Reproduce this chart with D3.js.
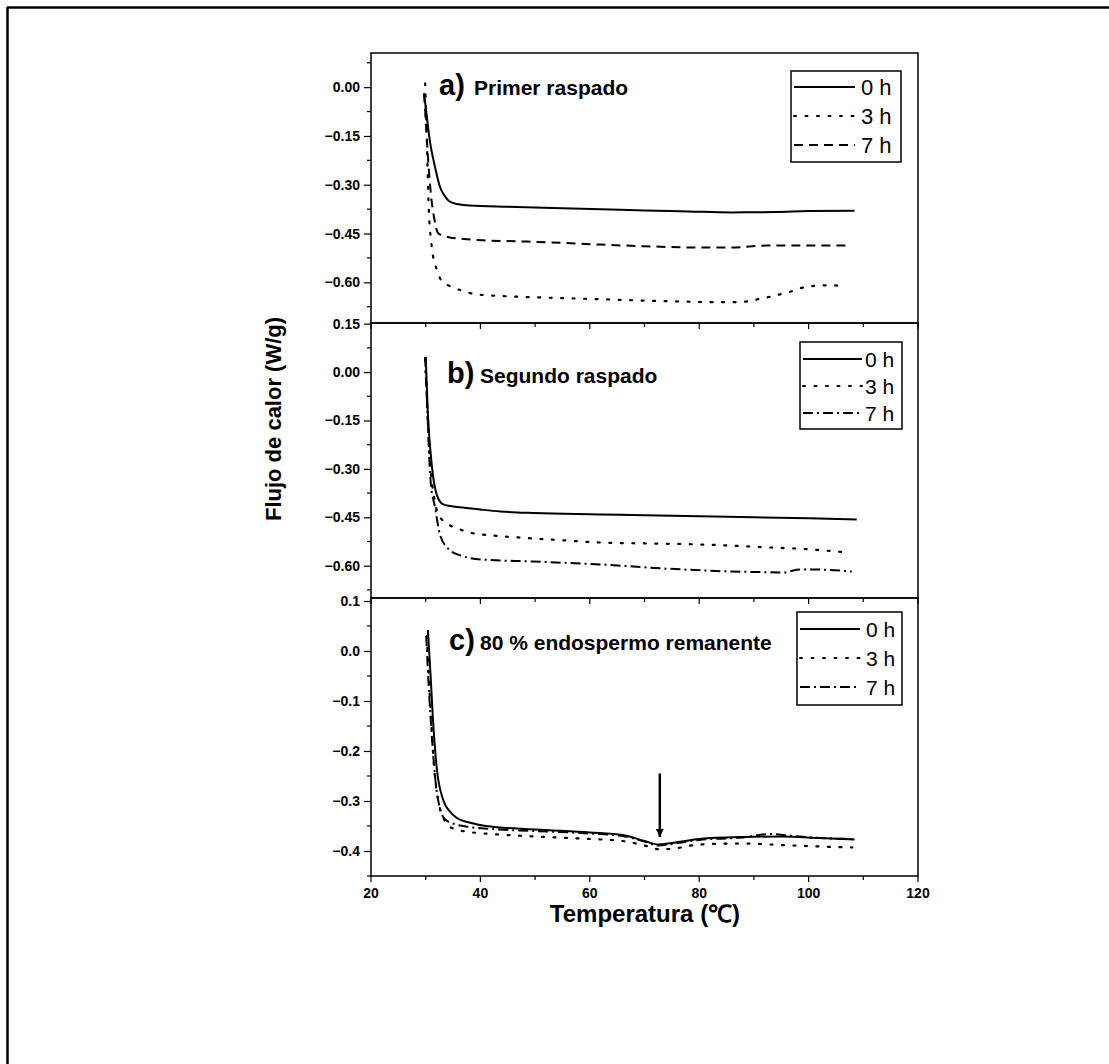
<!DOCTYPE html>
<html><head><meta charset="utf-8">
<script src="https://cdn.jsdelivr.net/npm/d3@7"></script>
<style>body{margin:0;background:#fff}svg{display:block}text{font-family:"Liberation Sans",Arial,sans-serif}</style>
</head><body><svg id="c" width="1109" height="1064"></svg>
<script>
// ---- data ----
const xTicks = [20, 40, 60, 80, 100, 120];
const seriesLabels = ["0 h", "3 h", "7 h"];
const panelTitles = ["Primer raspado", "Segundo raspado", "80 % endospermo remanente"];
const panelLetters = ["a)", "b)", "c)"];
const yTicksA = [0.00, -0.15, -0.30, -0.45, -0.60];
const yTicksB = [0.15, 0.00, -0.15, -0.30, -0.45, -0.60];
const yTicksC = [0.1, 0.0, -0.1, -0.2, -0.3, -0.4];

const a0T = [29.7, 30.2, 30.8, 31.7, 32.6, 33.5, 34.4, 36, 38, 45, 55, 62, 70, 78, 86, 94, 100, 108.4];
const a0V = [-0.018, -0.09, -0.17, -0.245, -0.306, -0.335, -0.352, -0.360, -0.364, -0.368, -0.372, -0.375, -0.379, -0.382, -0.385, -0.384, -0.381, -0.380];
const a3T = [29.9, 30.2, 30.5, 31.1, 32, 33, 35, 39.4, 45, 50, 62, 74, 84, 87, 91.6, 96.2, 100.2, 104.4, 106.9];
const a3V = [0.012, -0.153, -0.346, -0.49, -0.56, -0.597, -0.615, -0.637, -0.643, -0.646, -0.652, -0.658, -0.661, -0.661, -0.649, -0.631, -0.612, -0.609, -0.615];
const a7T = [29.7, 30.1, 30.6, 31, 31.6, 32.2, 33, 34.4, 37, 40.5, 47, 52.7, 62, 70, 80, 86, 92.3, 100, 107.5];
const a7V = [-0.02, -0.13, -0.26, -0.337, -0.407, -0.447, -0.456, -0.462, -0.467, -0.471, -0.474, -0.477, -0.484, -0.489, -0.493, -0.493, -0.487, -0.487, -0.487];

const b0T = [30, 30.4, 31.1, 32, 33.2, 34.5, 36.3, 40, 43.6, 50, 61.8, 70, 80, 90, 100, 108.8];
const b0V = [0.047, -0.13, -0.286, -0.379, -0.41, -0.415, -0.419, -0.426, -0.432, -0.437, -0.441, -0.444, -0.447, -0.450, -0.453, -0.457];
const b3T = [29.9, 30.3, 30.8, 31.6, 32.3, 33.9, 36, 38, 42, 46.6, 55.8, 61.8, 70, 80, 92.3, 100, 107];
const b3V = [0.04, -0.12, -0.28, -0.394, -0.441, -0.469, -0.486, -0.497, -0.506, -0.512, -0.522, -0.528, -0.531, -0.534, -0.543, -0.549, -0.559];
const b7T = [29.9, 30.3, 30.9, 31.7, 32.6, 33.9, 36.3, 40.5, 49.6, 61.8, 74, 86.1, 92, 95.3, 98.4, 101.5, 107.9];
const b7V = [0.047, -0.12, -0.338, -0.419, -0.503, -0.543, -0.568, -0.581, -0.587, -0.596, -0.609, -0.618, -0.620, -0.621, -0.612, -0.612, -0.618];

const c0T = [30.4, 30.9, 31.3, 32, 33.2, 34.5, 35.7, 38, 41, 50, 60, 66, 70, 72.5, 75, 80, 88, 95, 102, 108.4];
const c0V = [0.042, -0.05, -0.132, -0.232, -0.298, -0.322, -0.334, -0.343, -0.350, -0.357, -0.363, -0.368, -0.380, -0.387, -0.384, -0.376, -0.372, -0.371, -0.374, -0.377];
const c3T = [30.2, 30.6, 31, 31.6, 32.5, 33.5, 35, 38, 42, 50, 60, 66, 70, 73, 76, 80, 88, 95, 102, 108];
const c3V = [0.03, -0.06, -0.14, -0.24, -0.31, -0.34, -0.355, -0.362, -0.366, -0.371, -0.376, -0.380, -0.389, -0.397, -0.394, -0.387, -0.385, -0.388, -0.391, -0.393];
const c7T = [30.1, 30.5, 31, 31.7, 32.6, 33.6, 35, 38, 42, 50, 60, 66, 70, 72.5, 75, 80, 88, 93, 97, 102, 108];
const c7V = [0.03, -0.06, -0.15, -0.25, -0.315, -0.337, -0.345, -0.352, -0.356, -0.36, -0.365, -0.370, -0.381, -0.389, -0.386, -0.378, -0.373, -0.366, -0.370, -0.374, -0.376];

const arrowT = 72.8, arrowFrom = -0.245, arrowTo = -0.372;

// ---- layout / styles ----
const svg = d3.select("#c");
const X0 = 371, X1 = 918;
const x = d3.scaleLinear().domain([20, 120]).range([X0, X1]);
const dashes = {solid: null, dot: "2 9.5", dash: "9 6", dashdot: "10 4 2 4"};

const panels = [
  {top: 53, bot: 323, dom: [-0.725, 0.105], ticks: yTicksA, fmt: d3.format(".2f"), minorStep: 0.075,
   series: [[a0T, a0V, "solid"], [a3T, a3V, "dot"], [a7T, a7V, "dash"]],
   letterX: 439, titleX: 474, base: 95, title: 0,
   leg: {x: 791, y: 71, w: 110, h: 91, l0: 794, l1: 855, tx: 861, rows: [95, 124, 153], fs: 22}},
  {top: 323, bot: 598, dom: [-0.70, 0.152], ticks: yTicksB, fmt: d3.format(".2f"), minorStep: 0.075,
   series: [[b0T, b0V, "solid"], [b3T, b3V, "dot"], [b7T, b7V, "dashdot"]],
   letterX: 447, titleX: 480, base: 383, title: 1,
   leg: {x: 800, y: 342, w: 102, h: 87, l0: 803, l1: 862, tx: 865, rows: [367, 394, 421], fs: 21}},
  {top: 598, bot: 876, dom: [-0.45, 0.106], ticks: yTicksC, fmt: d3.format(".1f"), minorStep: 0.05,
   series: [[c0T, c0V, "solid"], [c3T, c3V, "dot"], [c7T, c7V, "dashdot"]],
   letterX: 449, titleX: 480, base: 650, title: 2,
   leg: {x: 797, y: 612, w: 105, h: 93, l0: 800, l1: 860, tx: 866, rows: [637, 666, 695], fs: 21}}
];

// outer frame (top & left edges visible)
svg.append("line").attr("x1", 7).attr("y1", 7.5).attr("x2", 1109).attr("y2", 7.5).attr("stroke", "#000").attr("stroke-width", 2.5);
svg.append("line").attr("x1", 7.5).attr("y1", 7).attr("x2", 7.5).attr("y2", 1064).attr("stroke", "#000").attr("stroke-width", 2.5);

const defs = svg.append("defs");
defs.append("marker").attr("id", "ah").attr("viewBox", "0 0 10 10").attr("refX", 10).attr("refY", 5)
  .attr("markerWidth", 3.2).attr("markerHeight", 3.2).attr("markerUnits", "strokeWidth").attr("orient", "auto")
  .append("path").attr("d", "M0,0 L10,5 L0,10 Z").attr("fill", "#000");

panels.forEach((p, pi) => {
  const y = d3.scaleLinear().domain(p.dom).range([p.bot, p.top]);
  const g = svg.append("g");
  g.append("rect").attr("x", X0).attr("y", p.top).attr("width", X1 - X0).attr("height", p.bot - p.top)
    .attr("fill", "none").attr("stroke", "#000").attr("stroke-width", 1.5);
  const xt = g.append("g").attr("transform", `translate(0,${p.bot})`);
  d3.range(20, 121, 10).forEach(t => {
    xt.append("line").attr("x1", x(t)).attr("x2", x(t)).attr("y1", 0).attr("y2", t % 20 === 0 ? 6 : 4)
      .attr("stroke", "#000").attr("stroke-width", 1.2);
  });
  if (pi === 2) {
    xt.selectAll("text.xl").data(xTicks).join("text").attr("class", "xl")
      .attr("x", d => x(d)).attr("y", 22).attr("text-anchor", "middle")
      .attr("font-size", 14).attr("font-weight", "bold").text(d => d);
  }
  const yax = d3.axisLeft(y).tickValues(p.ticks).tickSize(7).tickPadding(4).tickFormat(p.fmt);
  const yg = g.append("g").attr("transform", `translate(${X0},0)`).call(yax);
  yg.select(".domain").remove();
  yg.selectAll("line").attr("stroke-width", 1.2);
  yg.selectAll("text").attr("font-size", 14).attr("font-weight", "bold").attr("font-family", '"Liberation Sans",Arial,sans-serif').attr("fill", "#000");
  const lo = p.dom[0], hi = p.dom[1];
  const minors = [];
  for (let k = Math.ceil(lo / p.minorStep - 1e-6); k * p.minorStep <= hi + 1e-6; k++) {
    const v = +(k * p.minorStep).toFixed(4);
    if (!p.ticks.some(t => Math.abs(t - v) < 1e-6)) minors.push(v);
  }
  g.selectAll("line.mn").data(minors).join("line").attr("class", "mn")
    .attr("x1", X0 - 4).attr("x2", X0).attr("y1", d => y(d)).attr("y2", d => y(d))
    .attr("stroke", "#000").attr("stroke-width", 1.2);

  const line = d3.line().x(d => x(d[0])).y(d => y(d[1])).curve(d3.curveMonotoneX);
  p.series.forEach(([T, V, st]) => {
    const pts = T.map((t, i) => [t, V[i]]);
    g.append("path").attr("d", line(pts)).attr("fill", "none").attr("stroke", "#000")
      .attr("stroke-width", st === "dot" ? 2.2 : 2).attr("stroke-dasharray", dashes[st])
      .attr("stroke-linecap", st === "dot" ? "round" : "butt");
  });

  const tt = g.append("text").attr("y", p.base).attr("font-weight", "bold");
  tt.append("tspan").attr("x", p.letterX).attr("font-size", 29).text(panelLetters[pi]);
  tt.append("tspan").attr("x", p.titleX).attr("font-size", 21).text(panelTitles[p.title]);

  const L = p.leg;
  g.append("rect").attr("x", L.x).attr("y", L.y).attr("width", L.w).attr("height", L.h)
    .attr("fill", "#fff").attr("stroke", "#000").attr("stroke-width", 1.5);
  p.series.forEach(([T, V, st], i) => {
    const ry = L.rows[i] - 8;
    g.append("line").attr("x1", L.l0).attr("x2", L.l1).attr("y1", ry).attr("y2", ry)
      .attr("stroke", "#000").attr("stroke-width", 2).attr("stroke-dasharray", dashes[st])
      .attr("stroke-linecap", st === "dot" ? "round" : "butt");
    g.append("text").attr("x", L.tx).attr("y", L.rows[i]).attr("font-size", L.fs).text(seriesLabels[i]);
  });

  if (pi === 2) {
    g.append("line").attr("x1", x(arrowT)).attr("x2", x(arrowT)).attr("y1", y(arrowFrom)).attr("y2", y(arrowTo))
      .attr("stroke", "#000").attr("stroke-width", 2.5).attr("marker-end", "url(#ah)");
  }
});

svg.append("text").attr("transform", "translate(281,419) rotate(-90)").attr("text-anchor", "middle")
  .attr("font-size", 22).attr("font-weight", "bold").text("Flujo de calor (W/g)");
svg.append("text").attr("x", 645).attr("y", 922).attr("text-anchor", "middle")
  .attr("font-size", 24).attr("font-weight", "bold").text("Temperatura  (℃)");
</script></body></html>
